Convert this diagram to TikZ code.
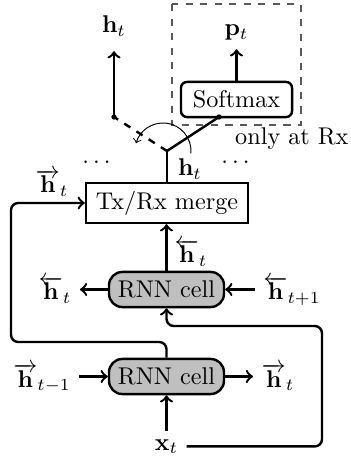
\documentclass[tikz,border=0pt]{standalone}
\usetikzlibrary{calc}
\begin{document}
\begin{tikzpicture}[x=0.4132pt,y=-0.4132pt,
  line/.style={line width=1pt},
  conn/.style={line width=1pt,->},
  boxed/.style={draw,line width=1pt,inner sep=0pt},
  cell/.style={boxed,fill=black!25,rounded corners=5.5pt,minimum width=47.5pt,minimum height=14.5pt},
  lbl/.style={inner sep=0.333em,anchor=base}]
\useasboundingbox (0,0) rectangle (350,457);

% dashed region
\draw[dashed,black!65,line width=0.5pt] (172,4) rectangle (301,125);

% main blocks
\node[boxed,minimum width=66.9pt,minimum height=16.5pt] (merge) at (167,203) {Tx/Rx merge};
\node[cell] (rnnU) at (166.5,289.5) {RNN cell};
\node[cell] (rnnL) at (166.5,376.5) {RNN cell};
\node[boxed,rounded corners=2.5pt,minimum width=45.9pt,minimum height=14.5pt] (soft) at (236.5,99.5) {Softmax};

% labels
\node[lbl] (hTop) at (114,33) {$\mathbf{h}_t$};
\node[lbl] (pT) at (236.5,36) {$\mathbf{p}_t$};
\node[lbl] (hJ) at (190,176) {$\mathbf{h}_t$};
\node[lbl,inner sep=0pt] (dotsL) at (96.5,164) {$\ldots$};
\node[lbl,inner sep=0pt] (dotsR) at (235.5,164) {$\ldots$};
\node[lbl,inner sep=0pt,anchor=base east] (rx) at (349,145) {only at Rx};
\node[lbl] (hfM) at (52,193) {$\overrightarrow{\mathbf{h}}_t$};
\node[lbl] (hbM) at (191,263) {$\overleftarrow{\mathbf{h}}_t$};
\node[lbl] (hbL) at (55,300) {$\overleftarrow{\mathbf{h}}_t$};
\node[lbl] (hbR) at (292,300) {$\overleftarrow{\mathbf{h}}_{t+1}$};
\node[lbl] (hfL) at (42,387) {$\overrightarrow{\mathbf{h}}_{t-1}$};
\node[lbl] (hfR) at (278,387) {$\overrightarrow{\mathbf{h}}_t$};
\node[lbl] (xT) at (166.5,450) {$\mathbf{x}_t$};

% helper coordinates
\coordinate (J) at (167,151);
\coordinate (D1) at (114,117);
\coordinate (D2) at (219,117);
\coordinate (LA) at (11,342);
\coordinate (RB) at (322,326);

% lower cell connections
\draw[conn] (hfL.east |- rnnL) -- (rnnL.west);
\draw[conn] (rnnL.east) -- (hfR.west |- rnnL);
\draw[conn] (xT.north) -- (xT.north |- rnnL.south);
\draw[conn,rounded corners=3pt] (rnnL.north) |- (LA) -- (LA |- merge.west) -- (merge.west);

% upper cell connections
\draw[conn,rounded corners=3pt] (xT.east) -| (RB) -| (rnnU.south);
\draw[conn] (hbR.west |- rnnU) -- (rnnU.east);
\draw[conn] (rnnU.west) -- (hbL.east |- rnnU);
\draw[conn] (rnnU.north) -- (rnnU.north |- merge.south);

% switch
\draw[line] (merge.north) -- (J);
\draw[line] (J) -- (D2);
\draw[line,dashed] (J) -- (D1);
\fill (D1) circle (1.1pt);
\fill (D2) circle (1.1pt);
\draw[conn,shorten >=2.5pt] (D1) -- (D1 |- hTop.south);
\draw[conn] (soft.north) -- (soft.north |- pT.south);
\draw[line width=0.4pt,->] ($(J)+(-4,0)+(5:28)$) arc[start angle=5,end angle=-164,radius=28];
\end{tikzpicture}
\end{document}
